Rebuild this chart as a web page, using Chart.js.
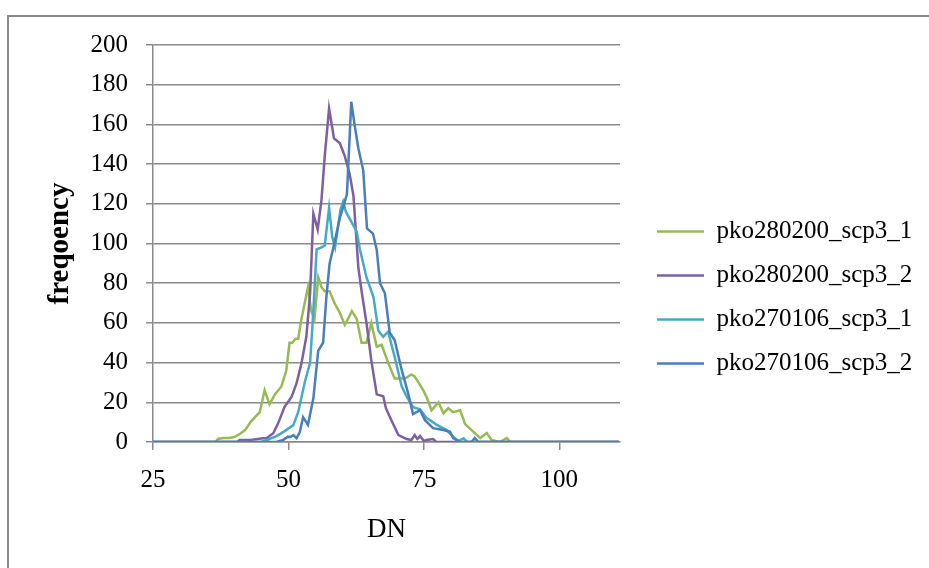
<!DOCTYPE html>
<html>
<head>
<meta charset="utf-8">
<script src="https://cdn.jsdelivr.net/npm/chart.js@4/dist/chart.umd.min.js"></script>
<style>
  html, body { margin: 0; padding: 0; background: #ffffff; }
  #wrap { position: relative; width: 929px; height: 568px; overflow: hidden; }
  #frame { position: absolute; left: 7px; top: 15px; width: 960px; height: 600px;
           border-left: 2px solid #8a8a8a; border-top: 2px solid #8a8a8a; }
  canvas { position: absolute; left: 0; top: 0; }
</style>
</head>
<body>
<div id="wrap">
  <div id="frame"></div>
  <canvas id="chart" width="929" height="568"></canvas>
</div>
<script>
// Histogram of DN values for four scenes
const seriesNames = ['pko280200_scp3_1', 'pko280200_scp3_2', 'pko270106_scp3_1', 'pko270106_scp3_2'];
const seriesColors = ['#98B954', '#7D60A0', '#46AAC5', '#4A7EBB'];

const xTicks = [25, 50, 75, 100];
const yTicks = [0, 20, 40, 60, 80, 100, 120, 140, 160, 180, 200];

// pko280200_scp3_1
const dnA = [25, 36.5, 37, 38, 39, 40, 41, 42, 43, 44, 44.7, 45.6, 46.5, 47.5, 48.7, 49.6, 50.2, 50.7, 51.3,
             51.8, 52.4, 53, 53.6, 54.2, 54.8, 55.5, 56.1, 56.7, 57.6, 58.5, 59.5, 60.4, 61, 61.7, 62.6, 63.5,
             64.4, 65.3, 66.3, 67.2, 68.4, 69.6, 70.5, 71.5, 72.7, 73.3, 74, 74.9, 75.6, 76.4, 77.7, 78.6,
             79.5, 80.4, 81.7, 82.6, 83.8, 84.6, 85.4, 86.6, 87.5, 89, 90.3, 91, 111];
const freqA = [0, 0, 1.5, 2, 2, 2.5, 4, 6, 10, 13, 15, 26, 19, 24, 28, 36, 50, 50, 52,
               52, 62, 70, 78, 66, 62, 83, 78, 76, 76, 70, 65, 59, 62, 66, 62, 50,
               50, 60, 48, 49, 40, 32, 32, 32, 34, 33, 30, 26, 22, 16, 20, 14.5,
               17, 15, 16, 9, 6, 4, 2, 4.5, 1, 0, 2, 0, 0];

// pko280200_scp3_2
const dnB = [25, 40.5, 41, 43, 45.3, 46, 47.2, 48.1, 49.3, 50.6, 51.5, 52.4, 53.3, 54, 54.6, 55.4, 56.1, 56.7,
             57.5, 58.4, 59.5, 60.4, 61.3, 62, 62.6, 62.9, 63.5, 64.4, 65.3, 66.3, 67.5, 68, 69, 70.3, 71.8,
             72.7, 73.3, 73.8, 74.3, 75, 75.5, 76.7, 77.3, 111];
const freqB = [0, 0, 1, 1, 1.9, 2, 4.4, 9.4, 17.8, 22.8, 29.6, 39.6, 53, 75, 115, 107, 122, 144,
               168, 153, 150.5, 144, 135, 124, 100, 88, 76, 60, 41, 24, 23, 17, 11, 3.5, 1.5,
               1, 3.5, 1.5, 3, 0.5, 1, 1.5, 0, 0];

// pko270106_scp3_1
const dnC = [25, 45, 46, 47.8, 49.3, 50.9, 51.8, 53, 54, 54.6, 55.2, 56.1, 56.7, 57.5, 58.1, 58.6, 59.6, 60.1,
             60.6, 61.6, 62.6, 63.2, 64.4, 65.7, 66.6, 67.5, 68.4, 69.6, 70.9, 71.8, 73, 74.3, 75.5, 76.4,
             77.4, 79.2, 80.4, 81.4, 82.3, 83, 111];
const freqC = [0, 0, 1, 3, 5.5, 8.5, 15, 30, 40, 66, 97, 98, 99, 118, 103, 98, 117, 121,
               116, 111, 106, 97, 83, 73, 56, 53, 55.6, 43, 28, 23, 17.5, 16.5, 12, 10.5,
               8.6, 6, 2.7, 0.5, 1.9, 0, 0];

// pko270106_scp3_2
const dnD = [25, 47.8, 49, 49.9, 50.4, 50.9, 51.5, 52.1, 52.7, 53.6, 54.6, 55.5, 56.4, 57, 57.6, 58.3, 59.5,
             60.4, 60.8, 61.6, 62.2, 62.9, 63.8, 64.5, 65.6, 66.3, 66.9, 67.8, 68.7, 69.6, 70.9, 72.1, 73,
             74.3, 75.2, 76.7, 78.6, 79.8, 80.4, 81.7, 83.8, 84.4, 85, 111];
const freqD = [0, 0, 1, 2.7, 2.5, 3.5, 1.9, 5, 12.5, 8.6, 22, 46, 50, 73, 90, 98, 113,
               121, 125, 171.4, 160, 148, 137, 107.6, 105, 96.7, 80, 75, 55, 51.4, 36.3, 24.5, 14,
               16, 11, 7, 6, 5.2, 2, 0, 0, 2, 0, 0];

const dnLists = [dnA, dnB, dnC, dnD];
const freqLists = [freqA, freqB, freqC, freqD];

const GRID = '#8a8a8a';
const SERIF = '"Liberation Serif", "Times New Roman", serif';

const datasets = seriesNames.map((name, i) => ({
  label: name,
  data: dnLists[i].map((x, k) => ({ x: x, y: freqLists[i][k] })),
  borderColor: seriesColors[i],
  backgroundColor: seriesColors[i],
  borderWidth: 2.5,
  pointRadius: 0,
  pointHoverRadius: 0,
  pointStyle: 'line',
  tension: 0,
  fill: false,
  order: seriesNames.length - i   // later series drawn on top
}));

// Legend column: fixed width so the plot ends at x = 620, then placed beside it.
const LEGEND_WIDTH = 309;
const legendPlacement = {
  id: 'legendPlacement',
  beforeLayout(chart) {
    const lg = chart.legend;
    if (lg && !lg._fixedWidth) {
      const fit = lg.fit.bind(lg);
      lg.fit = function () { fit(); this.width = LEGEND_WIDTH; };
      lg._fixedWidth = true;
    }
  },
  afterLayout(chart) {
    const lg = chart.legend;
    const w = lg.width, h = lg.height;
    lg.left = 638; lg.right = lg.left + w;
    lg.top = 200; lg.bottom = lg.top + h;
  }
};

new Chart(document.getElementById('chart'), {
  type: 'line',
  data: { datasets: datasets },
  plugins: [legendPlacement],
  options: {
    responsive: false,
    animation: false,
    events: [],
    layout: { padding: { left: 0, right: 0, top: 45, bottom: 0 } },
    plugins: {
      tooltip: { enabled: false },
      legend: {
        position: 'right',
        align: 'start',
        maxWidth: LEGEND_WIDTH,
        labels: {
          usePointStyle: true,
          pointStyleWidth: 47,
          padding: 19,
          color: '#000000',
          font: { family: SERIF, size: 25 },
          sort: (a, b) => a.datasetIndex - b.datasetIndex
        }
      }
    },
    scales: {
      x: {
        type: 'linear',
        min: 25,
        max: 111.2,
        afterBuildTicks: (axis) => { axis.ticks = xTicks.map(v => ({ value: v })); },
        afterFit: (axis) => { axis.height = 126; },
        border: { display: true, color: GRID, width: 1.5 },
        grid: { drawOnChartArea: false, drawTicks: true, tickLength: 8, color: GRID, lineWidth: 1.5 },
        ticks: { color: '#000000', font: { family: SERIF, size: 25 }, padding: 15, maxRotation: 0 },
        title: { display: true, text: 'DN', color: '#000000', font: { family: SERIF, size: 27 },
                 padding: { top: 0, bottom: 22 } }
      },
      y: {
        min: 0,
        max: 200,
        afterBuildTicks: (axis) => { axis.ticks = yTicks.map(v => ({ value: v })); },
        afterFit: (axis) => { axis.width = 153; },
        border: { display: true, color: GRID, width: 1.5 },
        grid: { drawOnChartArea: true, drawTicks: true, tickLength: 7, color: GRID, lineWidth: 1.5 },
        ticks: { color: '#000000', font: { family: SERIF, size: 25 }, padding: 18 },
        title: { display: true, text: 'freqoency', color: '#000000',
                 font: { family: SERIF, size: 29, weight: 'bold' },
                 padding: { top: 43, bottom: 0 } }
      }
    }
  }
});
</script>
</body>
</html>
